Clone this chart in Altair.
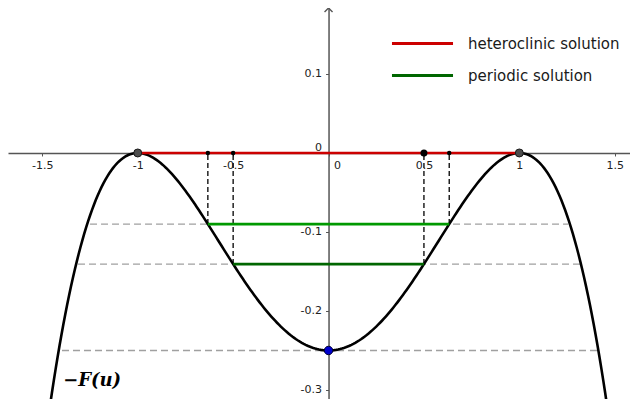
import altair as alt
import numpy as np
import pandas as pd

# ---------------- data ----------------
# potential  -F(u) = c0 + c1 u + c2 u^2 + c3 u^3 + c4 u^4   (double well)
F_COEFFS = [-0.25, 0.0, 0.5, 0.0, -0.25]
U_SAMPLES = np.linspace(-1.75, 1.75, 351)

# energy levels of the periodic orbits and their turning points
periodic_levels = [-0.09, -0.140625]
periodic_u = [0.6325, 0.5]

# grey dashed level lines (left end, right end, level)
grey_level = [-0.09, -0.140625, -0.25]
grey_left = [-1.25, -1.313, -1.397]
grey_right = [1.255, 1.318, 1.407]

# dashed projections onto the u-axis
proj_u = [-0.6325, -0.5, 0.5, 0.6325]
proj_v = [-0.09, -0.140625, -0.140625, -0.09]

# heteroclinic connection
hetero_u = [-1.0, 1.0]
hetero_v = 0.0

# marked points
small_pts_u = [-0.6325, -0.5, 0.6325]
big_pt_u = [0.5]
eq_u = [-1.0, 1.0]
min_pt = (0.0, -0.25)

x_ticks = [-1.5, -1, -0.5, 0, 0.5, 1, 1.5]
y_ticks = [0.1, 0, -0.1, -0.2, -0.3]
legend_labels = ["heteroclinic solution", "periodic solution"]
legend_colors = ["#cc0000", "#006600"]

# ---------------- layout ----------------
W, H = 622, 391
XMIN, XMAX = -1.68, 1.58
YMIN, YMAX = -0.3114, 0.1835
X_AXIS_OFFSET = -(0 - YMIN) / (YMAX - YMIN) * H
Y_AXIS_OFFSET = -(0 - XMIN) / (XMAX - XMIN) * W
AXC = "#555555"
FONT = "DejaVu Sans"

xscale = alt.Scale(domain=[XMIN, XMAX], nice=False, zero=False)
yscale = alt.Scale(domain=[YMIN, YMAX], nice=False, zero=False)

x_axis = alt.Axis(
    values=x_ticks, offset=X_AXIS_OFFSET, title=None, grid=False,
    domainColor=AXC, domainWidth=1.5, tickColor=AXC, tickSize=3, tickWidth=1,
    labelFont=FONT, labelFontSize=11, labelColor="#222222", labelPadding=4,
    labelExpr="toString(datum.value)", labelFlush=False, labelOverlap=False,
    labelAlign={"condition": {"test": "datum.value == 0", "value": "left"}, "value": "center"},
    labelOffset={"condition": {"test": "datum.value == 0", "value": 5}, "value": 0},
)
y_axis = alt.Axis(
    values=y_ticks, offset=Y_AXIS_OFFSET, title=None, grid=False,
    domainColor=AXC, domainWidth=1.5, tickColor=AXC, tickSize=3, tickWidth=1,
    labelFont=FONT, labelFontSize=11, labelColor="#222222", labelPadding=4,
    labelExpr="toString(datum.value)", labelFlush=False, labelOverlap=False,
    labelBaseline={"condition": {"test": "datum.value == 0", "value": "alphabetic"}, "value": "middle"},
    labelOffset={"condition": {"test": "datum.value == 0", "value": -2}, "value": 0},
)


def X(field="u"):
    return alt.X(f"{field}:Q", scale=xscale, axis=x_axis)


def Y(field="v"):
    return alt.Y(f"{field}:Q", scale=yscale, axis=y_axis)


color_scale = alt.Scale(domain=legend_labels, range=legend_colors)
legend = alt.Legend(
    orient="none", legendX=399, legendY=20, title=None,
    symbolType="M-2.18,0H2.18", symbolSize=784, symbolStrokeWidth=3,
    labelFont=FONT, labelFontSize=15, labelColor="#1a1a1a",
    labelOffset=30, rowPadding=8, padding=0, symbolOffset=0,
)

# ---------------- layers ----------------
curve_df = pd.DataFrame({"u": U_SAMPLES, "v": np.polyval(F_COEFFS[::-1], U_SAMPLES)})
grey_df = pd.DataFrame({"u": grey_left, "u2": grey_right, "v": grey_level})
proj_df = pd.DataFrame({"u": proj_u, "v": proj_v, "v2": [0.0] * len(proj_u)})
upper_df = pd.DataFrame({"u": [-periodic_u[0]], "u2": [periodic_u[0]], "v": [periodic_levels[0]]})
lower_df = pd.DataFrame({"u": [-periodic_u[1]], "u2": [periodic_u[1]], "v": [periodic_levels[1]],
                         "kind": [legend_labels[1]]})
hetero_df = pd.DataFrame({"u": [hetero_u[0]], "u2": [hetero_u[1]], "v": [hetero_v],
                          "kind": [legend_labels[0]]})
small_df = pd.DataFrame({"u": small_pts_u, "v": [0.0] * len(small_pts_u)})
big_df = pd.DataFrame({"u": big_pt_u, "v": [0.0]})
eq_df = pd.DataFrame({"u": eq_u, "v": [0.0, 0.0]})
min_df = pd.DataFrame({"u": [min_pt[0]], "v": [min_pt[1]]})
arrow_df = pd.DataFrame({"u": [0.0], "v": [YMAX]})
label_df = pd.DataFrame({"u": [-1.391], "v": [-0.2949], "t": ["\u2212F(u)"]})

grey = alt.Chart(grey_df).mark_rule(color="#a0a0a0", strokeWidth=1.3, strokeDash=[7, 4]).encode(
    x=X(), x2="u2:Q", y=Y())
proj = alt.Chart(proj_df).mark_rule(color="#000000", strokeWidth=1.3, strokeDash=[5, 3]).encode(
    x=X(), y=Y(), y2="v2:Q")
curve = alt.Chart(curve_df).mark_line(color="#000000", strokeWidth=2.6, clip=True).encode(
    x=X(), y=Y(), order="u:Q")
upper = alt.Chart(upper_df).mark_rule(color="#009900", strokeWidth=2.6).encode(
    x=X(), x2="u2:Q", y=Y())
lower = alt.Chart(lower_df).mark_rule(strokeWidth=2.6).encode(
    x=X(), x2="u2:Q", y=Y(), color=alt.Color("kind:N", scale=color_scale, legend=legend))
hetero = alt.Chart(hetero_df).mark_rule(strokeWidth=2.6).encode(
    x=X(), x2="u2:Q", y=Y(), color=alt.Color("kind:N", scale=color_scale, legend=legend))
small = alt.Chart(small_df).mark_point(filled=True, color="#000000", size=20, opacity=1).encode(x=X(), y=Y())
big = alt.Chart(big_df).mark_point(filled=True, color="#000000", size=49, opacity=1).encode(x=X(), y=Y())
eq = alt.Chart(eq_df).mark_point(filled=True, fill="#4d4d4d", stroke="#1a1a1a", strokeWidth=1,
                                 size=64, opacity=1).encode(x=X(), y=Y())
mn = alt.Chart(min_df).mark_point(filled=True, fill="#0000cc", stroke="#000033", strokeWidth=1,
                                  size=72, opacity=1).encode(x=X(), y=Y())
arrow = alt.Chart(arrow_df).mark_point(shape="M-1,1L0,0L1,1", filled=False, color=AXC, strokeWidth=1.4,
                                       size=64, opacity=1).encode(x=X(), y=Y())
label = alt.Chart(label_df).mark_text(font="DejaVu Serif", fontSize=18, fontWeight="bold", fontStyle="italic",
                                      align="left", baseline="alphabetic", color="#000000").encode(
    x=X(), y=Y(), text="t:N")

chart = alt.layer(grey, proj, curve, upper, lower, hetero, small, big, eq, mn, arrow, label).properties(
    width=W, height=H, autosize=alt.AutoSizeParams(type="none"), padding=0,
    background="white",
).configure_view(stroke=None)

chart.save("out.html", embed_options={"renderer": "svg", "actions": False})
